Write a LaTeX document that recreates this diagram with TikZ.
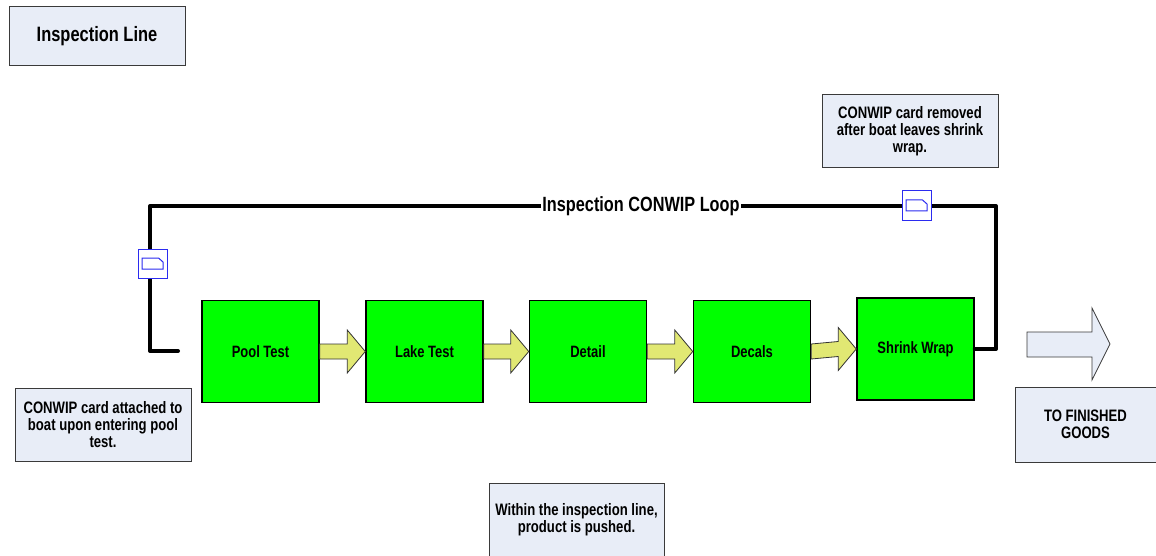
\documentclass[tikz,border=0pt]{standalone}
\usepackage{fontspec}
\setmainfont{Liberation Sans}[FakeStretch=0.79]
\usetikzlibrary{calc}
\definecolor{boxblue}{HTML}{E8EDF7}
\definecolor{boxedge}{HTML}{3A3A3A}
\definecolor{stepgreen}{HTML}{00FF00}
\definecolor{arrowyellow}{HTML}{E1E873}
\definecolor{cardblue}{HTML}{2B2BF0}
\tikzset{
  notebox/.style={draw=boxedge, line width=1pt, fill=boxblue, align=center,
    minimum width=176pt, minimum height=73pt, inner sep=0pt,
    font=\fontsize{16.6}{17}\selectfont\bfseries},
  stepbox/.style={draw=black, line width=1.5pt, fill=stepgreen,
    minimum width=117pt, minimum height=102pt, inner sep=0pt,
    font=\fontsize{16.4}{18}\selectfont\bfseries},
  pusharrow/.style={draw=black!80, line width=0.8pt, fill=arrowyellow, line join=miter},
  loopline/.style={draw=black, line width=4pt, line cap=round, line join=round},
  cardbox/.style={draw=cardblue, line width=1pt, fill=white,
    minimum width=29pt, minimum height=29pt, inner sep=0pt},
  cardshape/.style={draw=cardblue, line width=1pt},
  bigarrow/.style={draw=boxedge, line width=0.8pt, fill=boxblue, line join=miter}
}
\newcommand{\yellowarrow}[2]{%
  \draw[pusharrow] ($(#1.east)+(0,-7.5)$) -- ($(#2.west)+(-18,-7.5)$)
    -- ($(#2.west)+(-18,-21.5)$) -- (#2.west) -- ($(#2.west)+(-18,21.5)$)
    -- ($(#2.west)+(-18,7.5)$) -- ($(#1.east)+(0,7.5)$) -- cycle;}
\newcommand{\cardicon}[1]{%
  \draw[cardshape] ($(#1.center)+(-10.5,-5.5)$) -- ($(#1.center)+(6,-5.5)$)
    -- ($(#1.center)+(10.5,-1.5)$) -- ($(#1.center)+(10.5,5.5)$)
    -- ($(#1.center)+(-10.5,5.5)$) -- cycle;}
\begin{document}
\begin{tikzpicture}[x=1pt,y=-1pt]
\useasboundingbox (0,0) rectangle (1156,556);

% title
\node[notebox, minimum width=176pt, minimum height=59pt,
  font=\fontsize{20.8}{24}\selectfont\bfseries] (title) at (97,36.5) {Inspection Line};

% process steps
\node[stepbox] (pool)   at (260.5,351.5) {Pool Test};
\node[stepbox] (lake)   at (424.5,351.5) {Lake Test};
\node[stepbox] (detail) at (588,351.5)   {Detail};
\node[stepbox] (decals) at (752,351.5)   {Decals};
\node[stepbox] (shrink) at (915.5,349)   {Shrink Wrap};

% push arrows
\yellowarrow{pool}{lake}
\yellowarrow{lake}{detail}
\yellowarrow{detail}{decals}
\yellowarrow{decals}{shrink}

% CONWIP loop
\coordinate (ls) at (178,351);
\coordinate (tl) at (150,206);
\coordinate (tr) at (996,206);
\draw[loopline] (ls) -- (ls -| tl) -- (tl) -- (tr) -- (tr |- shrink.east) -- (shrink.east);
\node[fill=white, inner sep=1pt, font=\fontsize{20.6}{24}\selectfont\bfseries]
  (looplabel) at (641,206) {Inspection CONWIP Loop};

% kanban cards
\node[cardbox] (cardL) at (152.5,263.5) {};
\cardicon{cardL}
\node[cardbox] (cardR) at (916.5,205.5) {};
\cardicon{cardR}

% notes
\node[notebox] (attach) at (103,424.5)
  {CONWIP card attached to\\boat upon entering pool\\test.};
\node[notebox] (remove) at (910,131.5)
  {CONWIP card removed\\after boat leaves shrink\\wrap.};
\node[notebox, minimum width=175pt, minimum height=74pt] (push) at (576.5,520)
  {Within the inspection line,\\product is pushed.};
\node[notebox, minimum width=141pt, minimum height=75pt] (fg) at (1085.5,424.5)
  {TO FINISHED\\GOODS};

% exit arrow
\draw[bigarrow] (1027,332) -- (1092,332) -- (1092,308) -- (1110,344)
  -- (1092,380) -- (1092,357) -- (1027,357) -- cycle;
\end{tikzpicture}
\end{document}
